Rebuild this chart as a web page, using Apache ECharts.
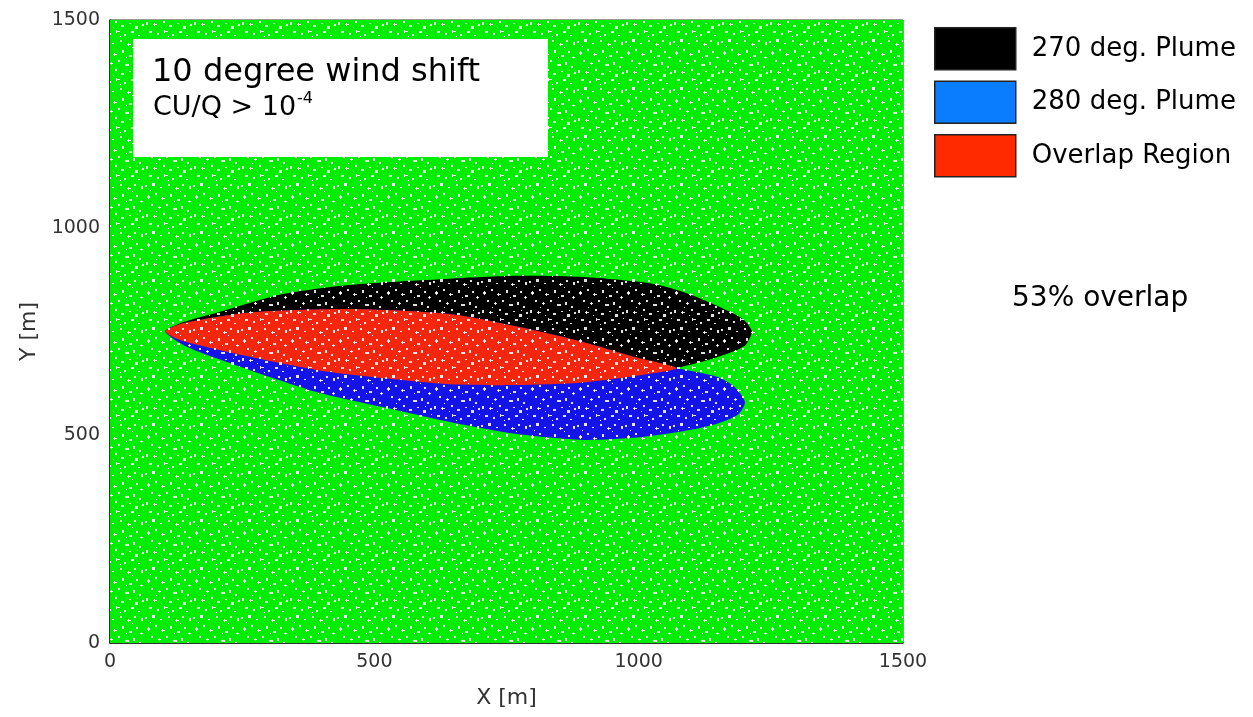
<!DOCTYPE html>
<html><head><meta charset="utf-8">
<script src="https://cdn.jsdelivr.net/npm/echarts@6/dist/echarts.min.js"></script>
<style>html,body{margin:0;padding:0;background:#fff}#c{width:1253px;height:717px}</style>
</head><body><div id="c"></div>
<script>
// ---- data (metres) ----
const xTicks = [0, 500, 1000, 1500];
const yTicks = [0, 500, 1000, 1500];
const domain = [[0, 0], [1500, 1500]];
// 270 deg plume outline
const plume270Top = [[105,750],[138,772],[202,795],[327,840],[454,862],[643,877],[770,884],[895,881],[1021,866],[1084,845],[1148,812],[1197,780],[1214,750]];
const plume270Bottom = [[105,750],[138,727],[265,689],[392,657],[516,638],[643,623],[770,621],[895,627],[1021,648],[1072,662],[1148,688],[1200,715],[1214,750]];
// 280 deg plume outline
const plume280Top = [[105,750],[138,770],[265,796],[454,804],[643,792],[770,762],[895,725],[989,690],[1072,662],[1148,641],[1180,618],[1201,580]];
const plume280Bottom = [[105,750],[138,718],[170,700],[265,657],[392,604],[516,568],[643,532],[770,503],[895,489],[989,494],[1084,510],[1148,528],[1188,550],[1201,580]];
const overlapEndX = 1072;
const seriesNames = ['270 deg. Plume', '280 deg. Plume', 'Overlap Region'];
const overlapText = '53% overlap';

// ---- polygons built from the outlines ----
function outline(top, bottom) {
  return top.concat(bottom.slice(1, -1).reverse());
}
const poly270 = outline(plume270Top, plume270Bottom);
const poly280 = outline(plume280Top, plume280Bottom);
const polyOverlap = plume280Top.filter(p => p[0] <= overlapEndX)
  .concat(plume270Bottom.filter(p => p[0] < overlapEndX && p[0] > plume270Bottom[0][0]).reverse());

// ---- speckle texture (style only) ----
const speck = [[3,4,3,2],[4,3,1,4],[11,1,2,2],[17,6,4,1],[18,5,1,3],[26,2,2,3],[33,7,3,2],[40,3,2,2],[44,9,3,1],[45,8,1,3],
  [7,12,2,2],[14,15,3,1],[15,14,1,3],[22,12,2,2],[29,16,4,2],[37,14,2,3],[43,18,2,2],
  [2,22,2,3],[9,24,4,1],[10,23,1,3],[19,21,2,2],[25,25,3,2],[33,23,2,1],[39,26,3,3],[46,24,2,2],
  [5,31,3,2],[13,33,2,2],[20,30,1,3],[21,31,3,1],[28,34,2,2],[35,31,3,2],[42,35,2,1],
  [1,41,2,2],[8,39,3,3],[16,43,2,1],[24,40,2,2],[31,44,4,1],[32,43,1,3],[38,40,2,2],[45,42,2,3],
  [30,9,1,1],[12,19,1,1],[41,22,1,1],[24,36,1,1],[6,46,1,1],[36,47,1,1],[47,30,1,1],[17,27,1,1]];
function tile(color) {
  const c = document.createElement('canvas');
  c.width = 48; c.height = 48;
  const g = c.getContext('2d');
  g.fillStyle = color; g.fillRect(0, 0, 48, 48);
  g.fillStyle = 'rgba(255,255,255,0.88)';
  speck.forEach(s => g.fillRect(s[0], s[1], s[2], s[3]));
  return {image: c, repeat: 'repeat'};
}
const fills = {
  green: tile('#00ec00'),
  black: tile('#000000'),
  blue: tile('#1414e8'),
  red: tile('#f5260e')
};

function polySeries(name, pts, fill, legendColor, z, smooth) {
  return {
    type: 'custom', name: name, z: z, clip: true,
    coordinateSystem: 'cartesian2d',
    data: pts,
    encode: {x: 0, y: 1},
    itemStyle: {color: legendColor},
    silent: true,
    renderItem: function (params, api) {
      if (params.dataIndex !== 0) return null;
      return {
        type: 'polygon',
        shape: {points: pts.map(p => api.coord(p)), smooth: smooth},
        style: {fill: fill, stroke: null}
      };
    }
  };
}

const chart = echarts.init(document.getElementById('c'), null, {renderer: 'canvas'});
const FONT = 'DejaVu Sans';
const plain = v => String(v);
chart.setOption({
  animation: false,
  backgroundColor: '#fff',
  grid: {left: 110, top: 20, right: 350, bottom: 74, show: true, borderColor: '#333', borderWidth: 1, backgroundColor: 'transparent'},
  xAxis: {
    type: 'value', min: xTicks[0], max: xTicks[xTicks.length - 1], interval: 500,
    name: 'X [m]', nameLocation: 'middle', nameGap: 44,
    nameTextStyle: {fontFamily: FONT, fontSize: 22, color: '#333'},
    axisLine: {show: true, lineStyle: {color: '#111', width: 1.5}},
    axisTick: {show: false}, splitLine: {show: false},
    axisLabel: {fontFamily: FONT, fontSize: 19, color: '#333', margin: 10, formatter: plain}
  },
  yAxis: {
    type: 'value', min: yTicks[0], max: yTicks[yTicks.length - 1], interval: 500,
    name: 'Y [m]', nameLocation: 'middle', nameGap: 70,
    nameTextStyle: {fontFamily: FONT, fontSize: 22, color: '#333'},
    axisLine: {show: true, lineStyle: {color: '#111', width: 1.5}},
    axisTick: {show: false}, splitLine: {show: false},
    axisLabel: {fontFamily: FONT, fontSize: 19, color: '#333', margin: 10, formatter: plain}
  },
  legend: {
    orient: 'vertical', left: 934, top: 27, padding: 0, itemWidth: 81, itemHeight: 42, itemGap: 10,
    selectedMode: false, icon: 'rect', data: seriesNames,
    itemStyle: {borderColor: '#222', borderWidth: 1.5},
    textStyle: {fontFamily: FONT, fontSize: 26, color: '#000', padding: [0, 0, 0, 11]}
  },
  series: [
    polySeries('domain', [[domain[0][0], domain[0][1]], [domain[1][0], domain[0][1]], [domain[1][0], domain[1][1]], [domain[0][0], domain[1][1]]], fills.green, '#00ec00', 1, 0),
    polySeries(seriesNames[0], poly270, fills.black, '#000000', 2, 0.25),
    polySeries(seriesNames[1], poly280, fills.blue, '#0a7dff', 3, 0.25),
    polySeries(seriesNames[2], polyOverlap, fills.red, '#ff2a00', 4, 0.25)
  ],
  graphic: [
    {type: 'rect', left: 133, top: 39, shape: {width: 415, height: 118}, style: {fill: '#fff'}, z: 100},
    {type: 'text', left: 152, top: 57, z: 101, style: {text: '10 degree wind shift', font: '32px "DejaVu Sans"', fill: '#000'}},
    {type: 'text', left: 153, top: 94, z: 101, style: {text: 'CU/Q > 10', font: '27px "DejaVu Sans"', fill: '#000'}},
    {type: 'text', left: 297, top: 91, z: 101, style: {text: '-4', font: '16px "DejaVu Sans"', fill: '#000'}},
    {type: 'text', left: 1012, top: 285, z: 101, style: {text: overlapText, font: '28px "DejaVu Sans"', fill: '#000'}}
  ]
});
</script></body></html>
